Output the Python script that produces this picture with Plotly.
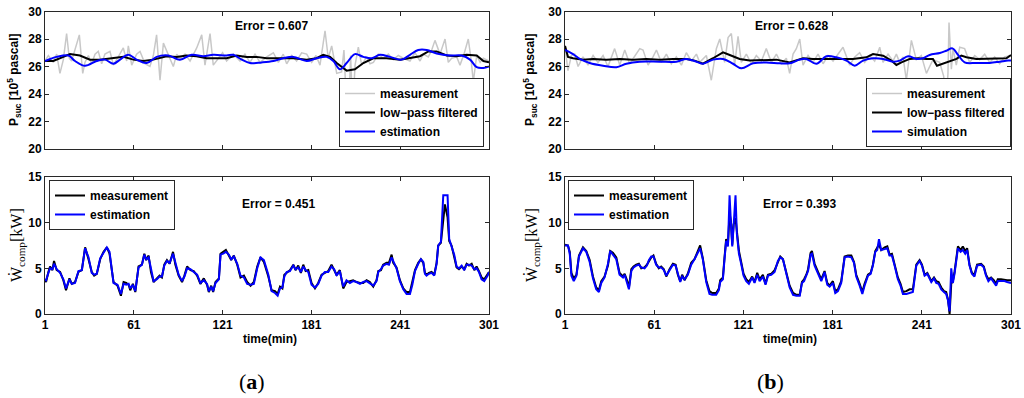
import plotly.graph_objects as go

# ---------------- data: panel (a) top, suction pressure ----------------
t_a_meas = [1, 3.3, 6.6, 8.9, 11.1, 13.4, 15.6, 17.4, 19.0, 22.4, 24.2, 26.5, 28.0, 30.3, 32.5, 34.8, 37.0, 39.3,
            41.5, 44.9, 47.2, 50.5, 53.9, 56.2, 57.3, 59.6, 62.9, 65.2, 68.6, 71.9, 74.2, 76.4, 78.7, 81.0, 84.3,
            87.7, 90.0, 92.2, 95.6, 99.0, 103.5, 106.9, 109.1, 112.5, 114.7, 118.1, 121.0, 123.7, 128.3, 132.8,
            136.1, 139.5, 142.9, 146.3, 150.8, 155.3, 158.7, 162.0, 164.3, 167.7, 171.0, 174.4, 177.8, 181.2,
            184.1, 186.8, 190.2, 192.4, 194.7, 198.1, 201.4, 203.0, 204.4, 206.0, 207.5, 208.9, 210.5, 212.7,
            215.0, 218.3, 220.6, 222.9, 226.2, 229.6, 233.0, 236.4, 239.7, 243.1, 247.6, 251.0, 254.4, 256.6,
            260.0, 262.3, 264.5, 267.9, 271.3, 273.5, 275.8, 279.2, 281.4, 284.1, 287.0, 288.8, 290.4, 292.7,
            295.0, 297.2, 301]
p_a_meas = [26.4, 26.8, 26.3, 26.9, 25.5, 26.5, 28.4, 26.6, 26.4, 27.6, 28.3, 25.5, 26.3, 26.8, 26.2, 26.9, 27.1,
            26.2, 26.9, 27.1, 26.1, 26.7, 27.35, 26.4, 27.5, 26.1, 26.9, 27.1, 26.2, 26.0, 26.8, 28.3, 25.0, 27.7,
            26.9, 26.0, 26.9, 26.6, 26.9, 26.4, 27.35, 28.3, 26.1, 28.4, 26.1, 26.6, 27.0, 26.4, 26.9, 26.4, 26.9,
            26.3, 26.9, 26.3, 26.7, 27.0, 26.3, 26.9, 26.2, 26.8, 26.4, 27.0, 26.9, 26.3, 26.8, 26.1, 28.6, 26.6,
            27.5, 25.5, 25.6, 27.2, 23.9, 22.4, 26.8, 22.7, 26.1, 27.4, 26.1, 26.7, 26.2, 26.3, 26.9, 26.6, 26.9,
            26.5, 26.8, 26.6, 26.4, 27.0, 26.4, 26.9, 26.7, 27.2, 27.9, 26.9, 28.0, 26.3, 26.6, 26.7, 26.1, 26.9,
            28.0, 26.6, 24.9, 26.8, 26.3, 26.6, 26.4]

t_a_filt = [1, 6.6, 13.4, 17.9, 24.6, 31.4, 38.1, 47.2, 54.0, 60.7, 67.4, 74.2, 83.2, 89.9, 96.7, 103.4, 110.2,
            117.0, 123.7, 130.5, 137.2, 144.0, 150.8, 159.8, 168.8, 177.8, 184.5, 189.0, 193.6, 198.1, 201.4,
            204.8, 210.4, 216.1, 222.8, 231.8, 240.9, 247.6, 254.4, 260.0, 265.6, 272.4, 279.1, 285.9, 292.7,
            297.2, 301]
p_a_filt = [26.4, 26.4, 26.7, 26.9, 26.8, 26.5, 26.5, 26.6, 26.7, 26.5, 26.4, 26.5, 26.75, 26.7, 26.8, 26.75,
            26.6, 26.6, 26.6, 26.8, 26.7, 26.7, 26.6, 26.6, 26.6, 26.5, 26.6, 26.85, 26.7, 26.25, 25.95, 25.7,
            25.8, 26.25, 26.6, 26.6, 26.5, 26.6, 26.75, 27.1, 27.1, 26.8, 26.75, 26.85, 26.8, 26.4, 26.3]

t_a_est = [1, 8.9, 16.8, 21.3, 28.0, 35.9, 41.5, 47.2, 51.7, 57.3, 62.9, 69.7, 76.4, 84.3, 92.2, 100.1, 108.0,
           114.7, 123.7, 128.2, 133.9, 139.5, 147.4, 155.3, 162.0, 168.8, 177.8, 184.5, 191.3, 195.8, 200.3,
           204.8, 210.4, 216.1, 221.7, 227.3, 234.1, 242.0, 247.6, 253.2, 258.9, 265.6, 274.6, 282.5, 288.2,
           292.7, 297.2, 301]
p_a_est = [26.4, 26.7, 26.8, 26.4, 26.05, 26.4, 26.5, 26.2, 26.5, 26.85, 26.5, 26.25, 26.7, 26.8, 26.5, 26.85,
           26.75, 26.85, 26.8, 26.85, 26.5, 26.25, 26.3, 26.4, 26.6, 26.7, 26.4, 26.6, 26.7, 26.4, 25.8, 26.25,
           26.9, 26.7, 26.6, 26.85, 26.7, 26.5, 26.85, 27.2, 27.2, 26.95, 26.8, 26.8, 26.5, 25.95, 25.9, 26.0]

# ---------------- data: panel (b) top, suction pressure ----------------
t_b_meas = [1, 3.0, 5.3, 7.5, 9.8, 13.1, 16.5, 19.9, 23.2, 26.6, 29.9, 34.4, 37.8, 41.2, 44.5, 47.9, 51.3, 53.5,
            56.9, 60.2, 62.5, 65.8, 69.2, 72.5, 75.9, 79.3, 82.6, 86.0, 89.4, 91.6, 96.1, 99.4, 102.8, 105.1,
            108.4, 110.7, 112.9, 115.1, 117.4, 119.6, 123.0, 126.4, 129.7, 133.1, 136.4, 139.8, 143.2, 146.5,
            149.9, 152.1, 154.4, 156.6, 158.9, 161.1, 164.5, 167.8, 171.2, 174.6, 177.9, 181.3, 184.6, 188.0,
            192.5, 195.9, 199.2, 202.6, 205.9, 209.3, 212.7, 214.9, 218.3, 221.6, 223.9, 226.1, 228.4, 230.6,
            234.0, 237.3, 240.7, 244.1, 248.5, 253.0, 255.7, 257.5, 258.6, 259.3, 260.9, 262.0, 264.2, 266.5,
            269.8, 273.2, 276.6, 279.9, 283.3, 286.7, 290.0, 293.4, 296.7, 301]
p_b_meas = [27.4, 25.7, 26.8, 26.9, 26.0, 26.7, 26.1, 26.8, 26.3, 26.8, 26.0, 27.3, 26.1, 27.2, 26.2, 26.8, 27.3,
            27.2, 26.1, 26.7, 27.2, 26.3, 26.9, 26.2, 26.7, 26.1, 27.0, 26.4, 26.9, 26.3, 26.8, 25.0, 27.3, 28.0,
            26.3, 28.1, 28.4, 26.1, 28.2, 26.3, 26.9, 26.2, 26.8, 26.4, 27.3, 26.3, 26.9, 26.2, 26.6, 25.5, 26.9,
            27.3, 28.0, 26.1, 26.8, 26.3, 26.9, 26.2, 26.8, 26.4, 26.9, 27.4, 26.1, 26.7, 27.0, 26.3, 26.8, 26.4,
            27.4, 26.3, 26.9, 26.4, 26.9, 26.3, 26.7, 25.0, 27.9, 26.5, 26.8, 25.5, 26.5, 26.3, 25.3, 23.5, 25.5,
            29.2, 25.8, 27.3, 26.1, 27.4, 27.3, 26.3, 26.8, 26.5, 26.9, 26.3, 26.7, 26.2, 26.7, 26.8]

t_b_filt = [1, 3.0, 6.4, 13.1, 19.9, 28.8, 37.8, 46.8, 55.7, 64.7, 73.7, 82.6, 88.2, 93.8, 100.6, 107.3, 111.8,
            118.5, 125.2, 134.2, 143.2, 152.1, 161.1, 167.8, 176.8, 185.8, 194.7, 203.7, 208.2, 215.0, 220.5,
            223.9, 227.3, 232.9, 238.5, 244.1, 248.5, 251.2, 255.3, 259.8, 264.3, 267.6, 271.0, 277.7, 284.4,
            293.4, 297.9, 301]
p_b_filt = [27.5, 26.7, 26.6, 26.5, 26.55, 26.5, 26.55, 26.5, 26.55, 26.5, 26.55, 26.55, 26.43, 26.2, 26.6, 27.03,
            26.84, 26.55, 26.43, 26.47, 26.5, 26.3, 26.6, 26.55, 26.55, 26.5, 26.55, 26.67, 26.91, 26.79, 26.43,
            26.11, 26.3, 26.55, 26.6, 26.55, 26.55, 26.06, 26.2, 26.35, 26.55, 26.79, 26.67, 26.55, 26.55, 26.55,
            26.6, 26.84]

t_b_sim = [1, 6.4, 10.9, 17.6, 26.6, 35.6, 42.3, 51.2, 64.7, 75.9, 82.6, 89.4, 93.8, 100.6, 107.3, 114.0, 119.6,
           127.5, 136.4, 145.4, 152.1, 158.9, 163.3, 170.1, 176.8, 183.5, 190.3, 195.9, 201.5, 208.2, 215.0,
           221.7, 226.2, 231.8, 237.4, 241.8, 246.3, 253.1, 257.5, 261.6, 265.4, 269.8, 277.7, 286.7, 293.4,
           299.0, 301]
p_b_sim = [27.2, 26.9, 26.55, 26.26, 26.06, 25.95, 26.2, 26.35, 26.35, 26.35, 26.55, 26.35, 26.2, 26.5, 26.55,
           26.2, 25.87, 26.23, 26.3, 26.23, 26.23, 26.5, 26.55, 26.2, 26.74, 26.67, 26.43, 26.06, 26.43, 26.6,
           26.55, 26.35, 26.43, 26.74, 26.55, 26.6, 26.84, 26.98, 27.15, 27.32, 26.84, 26.3, 26.26, 26.26, 26.35,
           26.43, 26.43]

# ---------------- data: panel (a) bottom, compressor power ----------------
t_wa = [1, 1.7, 3.3, 4.4, 6.0, 7.1, 8.9, 11.2, 13.4, 15.2, 17.5, 19.1, 21.3, 23.6, 25.9, 28.1, 30.4, 32.6, 34.2,
        36.0, 38.3, 40.5, 42.8, 44.6, 47.3, 50.0, 52.3, 54.1, 55.9, 57.5, 58.6, 60.4, 62.0, 64.2, 66.5, 68.1, 69.4,
        71.0, 72.6, 74.4, 76.6, 78.4, 80.0, 81.6, 83.4, 85.2, 87.5, 89.1, 91.3, 93.6, 95.2, 97.0, 99.3, 101.5,
        103.8, 106.0, 108.3, 110.5, 111.7, 113.3, 114.6, 116.2, 118.5, 119.6, 121.4, 123.2, 125.2, 126.8, 128.6,
        130.9, 133.1, 135.4, 137.6, 139.9, 142.1, 144.4, 146.6, 148.9, 151.9, 154.1, 156.4, 158.2, 159.8, 161.4,
        162.7, 164.3, 166.5, 168.8, 170.3, 172.1, 173.9, 175.5, 177.1, 178.9, 181.1, 183.4, 185.6, 187.9, 190.1,
        192.4, 194.6, 196.4, 198.0, 200.2, 202.5, 204.7, 207.0, 209.2, 211.5, 213.8, 216.0, 218.3, 220.5, 222.8,
        225.0, 226.2, 228.0, 229.5, 231.8, 233.4, 235.2, 236.3, 238.5, 240.8, 243.1, 245.3, 247.6, 249.2, 251.0,
        253.2, 255.0, 256.6, 257.7, 258.8, 260.4, 262.2, 264.0, 265.6, 266.7, 268.5, 270.1, 271.2, 273.0, 274.1,
        275.7, 277.5, 279.1, 280.7, 282.5, 284.3, 285.9, 287.5, 289.3, 291.1, 292.6, 294.2, 296.0, 297.8, 300.1,
        301]
w_a_meas = [3.8, 3.5, 4.6, 5.2, 4.8, 5.8, 4.8, 4.6, 3.7, 2.6, 3.9, 3.3, 3.5, 4.6, 4.8, 7.3, 6.0, 4.6, 4.2, 4.4,
            6.0, 6.8, 7.3, 6.6, 3.5, 3.1, 2.0, 3.5, 3.4, 3.2, 2.6, 3.3, 2.4, 5.2, 5.4, 6.6, 5.9, 6.4, 4.6, 3.5, 3.9,
            4.2, 4.0, 5.4, 5.9, 5.5, 6.8, 5.4, 4.2, 3.5, 4.2, 5.2, 4.8, 4.7, 4.2, 3.3, 3.9, 3.2, 2.4, 3.1, 2.4, 3.5,
            3.9, 6.6, 6.8, 7.0, 6.4, 5.9, 6.4, 5.4, 4.0, 4.2, 3.5, 3.1, 3.5, 5.2, 6.2, 5.7, 4.1, 2.6, 2.5, 2.2, 3.0,
            2.8, 4.3, 4.5, 4.8, 5.4, 4.8, 5.3, 4.5, 5.4, 4.7, 4.8, 3.4, 2.8, 3.4, 4.3, 4.5, 4.7, 5.4, 4.8, 4.3, 4.8,
            2.8, 3.5, 3.6, 3.7, 3.5, 3.4, 3.4, 3.7, 3.5, 3.0, 3.7, 4.7, 4.8, 5.4, 5.6, 5.6, 6.5, 5.6, 5.1, 3.7, 2.8,
            2.4, 2.4, 3.4, 4.8, 5.6, 6.0, 5.6, 4.5, 4.3, 4.5, 4.6, 4.3, 5.6, 7.5, 7.8, 10.2, 12.0, 10.6, 8.0, 7.5,
            6.4, 5.1, 4.9, 5.2, 4.9, 5.5, 5.3, 5.5, 4.8, 5.2, 4.7, 4.0, 3.8, 4.5, 4.6]
w_a_est = [3.8, 3.7, 4.5, 5.0, 4.9, 5.5, 4.9, 4.5, 3.8, 2.8, 3.8, 3.3, 3.4, 4.7, 4.8, 7.2, 6.2, 4.5, 4.3, 4.4,
           6.1, 6.7, 7.3, 6.8, 3.4, 3.2, 2.2, 3.3, 3.2, 3.3, 2.8, 3.2, 2.5, 5.1, 5.4, 6.5, 6.0, 6.2, 4.8, 3.6, 3.8,
           4.1, 4.1, 5.3, 5.8, 5.6, 6.6, 5.6, 4.3, 3.6, 4.1, 5.0, 4.9, 4.6, 4.3, 3.4, 3.7, 3.3, 2.5, 3.0, 2.5, 3.4,
           3.8, 6.5, 6.6, 6.8, 6.5, 6.0, 6.3, 5.5, 4.2, 4.0, 3.3, 3.2, 3.3, 5.0, 6.2, 5.9, 4.3, 2.5, 2.3, 2.0, 2.8,
           2.9, 4.1, 4.6, 4.7, 5.3, 4.9, 5.1, 4.6, 5.2, 4.8, 4.6, 3.2, 2.9, 3.3, 4.2, 4.6, 4.6, 5.2, 4.9, 4.2, 4.7,
           3.0, 3.7, 3.4, 3.6, 3.5, 3.3, 3.5, 3.6, 3.4, 3.1, 3.6, 4.6, 4.9, 5.3, 5.5, 5.4, 6.2, 5.8, 5.0, 3.6, 2.7,
           2.2, 2.2, 3.2, 4.7, 5.5, 6.0, 5.7, 4.4, 4.2, 4.4, 4.5, 4.2, 5.5, 7.5, 7.9, 13.0, 13.0, 13.0, 8.2, 7.4,
           6.5, 5.2, 5.0, 5.3, 4.8, 5.4, 5.4, 5.3, 4.9, 5.0, 4.6, 3.8, 3.6, 4.2, 4.6]

# ---------------- data: panel (b) bottom, compressor power ----------------
t_wb = [1, 3.0, 4.2, 5.3, 6.9, 8.7, 10.4, 13.1, 15.3, 17.6, 19.8, 22.0, 23.8, 25.4, 27.6, 29.9, 31.4, 33.2, 35.5,
        37.7, 40.0, 41.1, 42.9, 44.0, 45.6, 47.1, 48.9, 50.7, 52.3, 54.5, 56.1, 57.4, 59.0, 60.5, 62.3, 64.1, 65.7,
        67.5, 69.1, 71.3, 73.6, 75.4, 76.9, 78.5, 79.8, 81.4, 83.6, 85.9, 88.1, 90.4, 91.9, 93.7, 96.0, 98.2,
        100.0, 102.7, 104.5, 105.4, 107.2, 108.3, 109.4, 110.6, 111.7, 112.6, 113.5, 114.4, 115.7, 116.6, 118.0,
        119.5, 121.1, 122.9, 124.7, 126.9, 128.5, 130.3, 131.9, 134.1, 135.9, 137.5, 139.7, 142.0, 144.2, 145.8,
        147.6, 149.9, 152.1, 154.4, 156.6, 158.9, 160.4, 161.8, 163.3, 164.5, 166.2, 167.1, 168.9, 171.2, 173.4,
        175.6, 177.4, 179.0, 181.2, 182.8, 184.6, 186.8, 189.1, 191.3, 193.6, 195.4, 196.9, 199.2, 201.0, 202.5,
        204.8, 206.6, 208.1, 209.7, 211.0, 212.2, 213.7, 216.0, 217.8, 219.3, 220.9, 222.7, 224.9, 226.7, 228.3,
        230.6, 232.8, 235.0, 237.3, 239.5, 241.1, 242.9, 244.7, 246.2, 247.4, 249.2, 250.7, 252.3, 254.1, 255.9,
        257.4, 258.6, 259.7, 260.8, 261.9, 263.0, 264.2, 265.3, 267.1, 268.6, 270.2, 271.5, 273.1, 274.7, 276.4,
        278.2, 280.9, 282.7, 284.2, 285.8, 287.6, 289.4, 291.0, 292.1, 294.3, 296.6, 298.4, 301]
w_b_meas = [7.6, 7.5, 6.8, 4.5, 3.9, 4.3, 6.4, 7.3, 6.9, 5.9, 4.1, 2.9, 2.6, 3.6, 4.1, 5.3, 6.9, 6.7, 6.2, 4.5,
            4.1, 4.4, 3.6, 2.9, 4.9, 5.2, 5.4, 5.5, 5.0, 5.1, 5.4, 5.8, 6.2, 6.4, 5.5, 5.0, 5.2, 4.9, 4.1, 4.9, 5.5,
            5.4, 4.3, 3.6, 4.3, 3.7, 4.4, 5.6, 6.0, 6.9, 7.5, 6.1, 3.7, 2.5, 2.3, 2.3, 2.8, 3.7, 4.0, 6.2, 8.2, 7.6,
            11.0, 10.2, 7.6, 9.8, 10.5, 9.1, 6.9, 5.7, 4.4, 3.8, 3.5, 4.1, 3.5, 4.5, 3.8, 4.3, 3.3, 4.3, 4.4, 4.8,
            5.7, 6.3, 6.0, 4.6, 3.1, 2.3, 2.1, 2.1, 3.5, 3.8, 4.3, 4.9, 6.7, 6.9, 5.5, 4.6, 3.8, 4.7, 3.4, 3.1, 3.6,
            2.5, 2.7, 3.6, 6.3, 6.4, 6.4, 5.7, 4.3, 3.3, 2.4, 3.3, 4.3, 4.5, 5.4, 6.9, 7.2, 7.6, 7.0, 7.3, 7.4, 6.5,
            6.6, 5.4, 4.0, 3.3, 2.4, 2.5, 2.7, 2.7, 5.4, 5.9, 5.4, 4.3, 4.5, 4.0, 3.6, 4.0, 3.6, 3.5, 2.9, 2.5, 2.4,
            1.6, 0.0, 3.3, 3.6, 4.6, 6.1, 7.4, 7.0, 7.4, 6.9, 7.2, 5.4, 4.5, 4.3, 5.4, 5.5, 5.2, 4.3, 3.8, 4.0, 3.7,
            3.3, 3.8, 3.8, 3.7, 3.7, 3.7]
w_b_est = [7.5, 7.5, 6.6, 4.2, 3.6, 4.2, 6.3, 7.2, 6.8, 5.7, 3.9, 2.7, 2.4, 3.4, 4.0, 5.5, 6.9, 6.5, 6.0, 4.3,
           4.0, 4.3, 3.4, 2.7, 4.7, 5.1, 5.3, 5.4, 5.1, 5.0, 5.3, 5.9, 6.3, 6.3, 5.4, 5.1, 5.1, 4.8, 4.2, 4.8, 5.4,
           5.3, 4.4, 3.5, 4.1, 3.8, 4.3, 5.4, 6.0, 6.8, 7.2, 6.0, 3.5, 2.2, 2.1, 2.1, 2.6, 3.5, 3.8, 6.0, 8.0, 7.4,
           13.0, 10.0, 7.4, 9.6, 13.0, 8.8, 6.6, 5.5, 4.2, 3.6, 3.3, 4.0, 3.4, 4.3, 3.6, 4.1, 3.2, 4.2, 4.3, 4.6,
           5.8, 6.2, 6.0, 4.4, 2.9, 2.1, 2.0, 2.0, 3.4, 3.6, 4.2, 4.7, 6.5, 6.6, 5.3, 4.4, 3.6, 4.6, 3.2, 3.0, 3.4,
           2.3, 2.5, 3.4, 6.2, 6.3, 6.2, 5.6, 4.1, 3.1, 2.2, 3.1, 4.2, 4.4, 5.3, 6.8, 7.0, 8.2, 7.0, 7.1, 7.2, 6.4,
           6.4, 5.3, 3.8, 3.1, 2.2, 2.2, 2.3, 2.4, 5.3, 5.8, 5.3, 4.2, 4.4, 3.9, 3.5, 3.9, 3.4, 3.3, 2.7, 2.4, 2.2,
           1.5, 0.3, 5.0, 3.4, 4.4, 6.0, 7.2, 6.8, 7.0, 6.6, 7.0, 5.3, 4.4, 4.1, 5.3, 5.4, 5.1, 4.2, 3.6, 3.9, 3.5,
           3.1, 3.6, 3.6, 3.6, 3.5, 3.4]

time_ticks = [1, 61, 121, 181, 241, 301]
p_ticks = [20, 22, 24, 26, 28, 30]
w_ticks = [0, 5, 10, 15]
error_texts = ["Error = 0.607", "Error = 0.628", "Error = 0.451", "Error = 0.393"]

# ---------------- figure ----------------
W, H = 1024, 398
GREY = "rgb(200,200,200)"
BLUE = "rgb(0,0,255)"
BLACK = "rgb(0,0,0)"


def px(x):
    return x / W


def py(y):
    return 1 - y / H


fig = go.Figure()

# top panels
fig.add_trace(go.Scatter(x=t_a_meas, y=p_a_meas, mode="lines", name="measurement",
                         line=dict(color=GREY, width=1.5), xaxis="x", yaxis="y", legend="legend"))
fig.add_trace(go.Scatter(x=t_a_filt, y=p_a_filt, mode="lines", name="low\u2212pass filtered",
                         line=dict(color=BLACK, width=2), xaxis="x", yaxis="y", legend="legend"))
fig.add_trace(go.Scatter(x=t_a_est, y=p_a_est, mode="lines", name="estimation", line_shape="spline",
                         line=dict(color=BLUE, width=2), xaxis="x", yaxis="y", legend="legend"))

fig.add_trace(go.Scatter(x=t_b_meas, y=p_b_meas, mode="lines", name="measurement",
                         line=dict(color=GREY, width=1.5), xaxis="x2", yaxis="y2", legend="legend2"))
fig.add_trace(go.Scatter(x=t_b_filt, y=p_b_filt, mode="lines", name="low\u2212pass filtered",
                         line=dict(color=BLACK, width=2), xaxis="x2", yaxis="y2", legend="legend2"))
fig.add_trace(go.Scatter(x=t_b_sim, y=p_b_sim, mode="lines", name="simulation", line_shape="spline",
                         line=dict(color=BLUE, width=2), xaxis="x2", yaxis="y2", legend="legend2"))

# bottom panels
fig.add_trace(go.Scatter(x=t_wa, y=w_a_meas, mode="lines", name="measurement",
                         line=dict(color=BLACK, width=2), xaxis="x3", yaxis="y3", legend="legend3"))
fig.add_trace(go.Scatter(x=t_wa, y=w_a_est, mode="lines", name="estimation",
                         line=dict(color=BLUE, width=2), xaxis="x3", yaxis="y3", legend="legend3"))
fig.add_trace(go.Scatter(x=t_wb, y=w_b_meas, mode="lines", name="measurement",
                         line=dict(color=BLACK, width=2), xaxis="x4", yaxis="y4", legend="legend4"))
fig.add_trace(go.Scatter(x=t_wb, y=w_b_est, mode="lines", name="estimation",
                         line=dict(color=BLUE, width=2), xaxis="x4", yaxis="y4", legend="legend4"))

LX = [px(45), px(489)]
RX = [px(565), px(1011)]
TY = [py(149), py(11.5)]
BY = [py(314), py(177)]

tickfont = dict(family="Arial", size=12, color="black", weight="bold")
axis_common = dict(showline=True, linecolor="rgb(40,40,40)", linewidth=1, mirror="ticks",
                   ticks="inside", ticklen=4, tickcolor="rgb(40,40,40)", showgrid=False,
                   zeroline=False, tickfont=tickfont, automargin=False)

xa = dict(range=[1, 301], tickvals=time_ticks, **axis_common)
fig.update_layout(
    xaxis=dict(domain=LX, anchor="y", showticklabels=False, **xa),
    xaxis2=dict(domain=RX, anchor="y2", showticklabels=False, **xa),
    xaxis3=dict(domain=LX, anchor="y3", **xa),
    xaxis4=dict(domain=RX, anchor="y4", **xa),
    yaxis=dict(domain=TY, anchor="x", range=[20, 30], tickvals=p_ticks, **axis_common),
    yaxis2=dict(domain=TY, anchor="x2", range=[20, 30], tickvals=p_ticks, **axis_common),
    yaxis3=dict(domain=BY, anchor="x3", range=[0, 15], tickvals=w_ticks, **axis_common),
    yaxis4=dict(domain=BY, anchor="x4", range=[0, 15], tickvals=w_ticks, **axis_common),
)

legfont = dict(family="Arial", size=12, color="black", weight="bold")
leg_common = dict(bgcolor="white", bordercolor="rgb(40,40,40)", borderwidth=1, font=legfont,
                  tracegroupgap=0, itemwidth=30)
fig.update_layout(
    legend=dict(x=px(484), y=py(147), xanchor="right", yanchor="bottom", **leg_common),
    legend2=dict(x=px(1011), y=py(147), xanchor="right", yanchor="bottom", **leg_common),
    legend3=dict(x=px(49), y=py(180), xanchor="left", yanchor="top", **leg_common),
    legend4=dict(x=px(568), y=py(180), xanchor="left", yanchor="top", **leg_common),
)

annfont = dict(family="Arial", size=12, color="black", weight="bold")
annotations = [
    dict(x=px(271), y=py(26), text=error_texts[0]),
    dict(x=px(791), y=py(26), text=error_texts[1]),
    dict(x=px(278), y=py(204), text=error_texts[2]),
    dict(x=px(799), y=py(204), text=error_texts[3]),
    dict(x=px(270), y=py(339), text="time(min)"),
    dict(x=px(790), y=py(339), text="time(min)"),
]
for a in annotations:
    a.update(xref="paper", yref="paper", showarrow=False, font=annfont, xanchor="center", yanchor="middle")

ytitle_p = "P<sub>suc</sub> [10<sup>5</sup> pascal]"
ytitle_w = "\u1e86<sub>comp</sub>[kW]"
serif16 = dict(family="Liberation Serif, Times New Roman, serif", size=16, color="black")
serif22 = dict(family="Liberation Serif, Times New Roman, serif", size=22, color="black")
annotations += [
    dict(x=px(14), y=py(80), text=ytitle_p, textangle=-90, font=annfont),
    dict(x=px(530), y=py(80), text=ytitle_p, textangle=-90, font=annfont),
    dict(x=px(18), y=py(245), text=ytitle_w, textangle=-90, font=serif16),
    dict(x=px(533), y=py(245), text=ytitle_w, textangle=-90, font=serif16),
    dict(x=px(252), y=py(381), text="(<b>a</b>)", font=serif22),
    dict(x=px(770), y=py(381), text="(<b>b</b>)", font=serif22),
]
for a in annotations[6:]:
    a.update(xref="paper", yref="paper", showarrow=False, xanchor="center", yanchor="middle")

fig.update_layout(annotations=annotations, width=W, height=H, margin=dict(l=0, r=0, t=0, b=0),
                  plot_bgcolor="white", paper_bgcolor="white", showlegend=True)

fig.write_html("out.html", config={"displayModeBar": False},
               post_script="document.body.style.margin='0';document.body.style.overflow='hidden';")
